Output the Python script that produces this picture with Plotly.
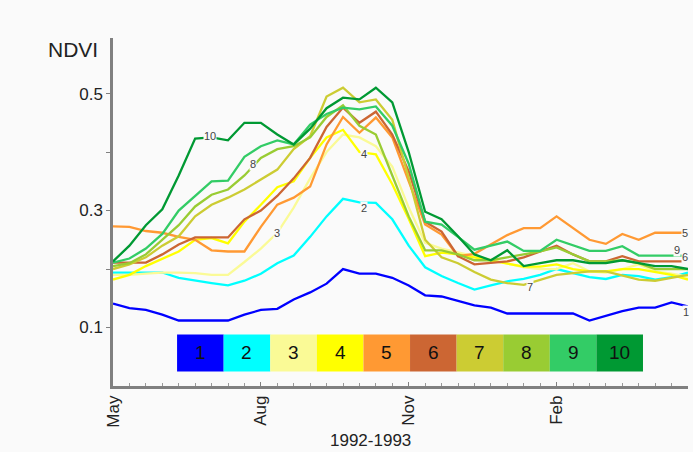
import plotly.graph_objects as go

# dekads from May 1992 (0) to late April 1993 (35)
dekads = list(range(36))
month_ticks = [0, 9, 18, 27]
month_labels = ["May", "Aug", "Nov", "Feb"]

class_names = ["1", "2", "3", "4", "5", "6", "7", "8", "9", "10"]
class_colors = ["#0000FF", "#00FFFF", "#FAFA96", "#FFFF00", "#FF9933",
                "#CC6633", "#CCCC33", "#99CC33", "#33CC66", "#009933"]

s1 = [0.141, 0.133, 0.13, 0.122, 0.112, 0.112, 0.112, 0.112, 0.122, 0.13, 0.132, 0.148,
      0.16, 0.175, 0.2, 0.192, 0.192, 0.185, 0.172, 0.155, 0.153, 0.145, 0.138, 0.134,
      0.124, 0.124, 0.124, 0.124, 0.124, 0.112, 0.12, 0.128, 0.134, 0.134, 0.143, 0.136]
s2 = [0.194, 0.194, 0.194, 0.194, 0.185, 0.18, 0.176, 0.172, 0.18, 0.192, 0.21, 0.223,
      0.255, 0.29, 0.32, 0.314, 0.313, 0.285, 0.24, 0.203, 0.188, 0.176, 0.165, 0.172,
      0.179, 0.183, 0.19, 0.2, 0.193, 0.186, 0.183, 0.19, 0.188, 0.182, 0.186, 0.194]
s3 = [0.19, 0.19, 0.192, 0.194, 0.194, 0.193, 0.19, 0.19, 0.212, 0.235, 0.262, 0.305,
      0.355, 0.4, 0.43, 0.425, 0.41, 0.375, 0.305, 0.245, 0.235, 0.228, 0.222, 0.216,
      0.21, 0.203, 0.2, 0.2, 0.21, 0.196, 0.194, 0.2, 0.208, 0.196, 0.192, 0.187]
s4 = [0.182, 0.19, 0.205, 0.217, 0.23, 0.25, 0.253, 0.244, 0.281, 0.31, 0.34, 0.35,
      0.39, 0.425, 0.438, 0.4, 0.396, 0.345, 0.286, 0.222, 0.228, 0.225, 0.22, 0.215,
      0.21, 0.204, 0.204, 0.208, 0.2, 0.196, 0.196, 0.2, 0.2, 0.195, 0.19, 0.182]
s5 = [0.273, 0.272, 0.265, 0.262, 0.255, 0.25, 0.232, 0.23, 0.23, 0.272, 0.31, 0.322,
      0.341, 0.413, 0.46, 0.433, 0.459, 0.425, 0.35, 0.276, 0.259, 0.222, 0.226, 0.242,
      0.258, 0.27, 0.27, 0.29, 0.27, 0.25, 0.243, 0.26, 0.25, 0.262, 0.262, 0.262]
s6 = [0.211, 0.211, 0.211, 0.225, 0.242, 0.254, 0.254, 0.254, 0.285, 0.3, 0.325, 0.355,
      0.39, 0.443, 0.476, 0.45, 0.469, 0.43, 0.367, 0.281, 0.264, 0.222, 0.208, 0.21,
      0.213, 0.22, 0.23, 0.24, 0.225, 0.213, 0.213, 0.222, 0.213, 0.213, 0.213, 0.213]
s7 = [0.2, 0.208, 0.22, 0.24, 0.256, 0.29, 0.31, 0.322, 0.336, 0.353, 0.37, 0.405,
      0.427, 0.495, 0.51, 0.485, 0.49, 0.455, 0.356, 0.25, 0.22, 0.21, 0.195, 0.182,
      0.176, 0.173, 0.182, 0.19, 0.193, 0.196, 0.196, 0.189, 0.182, 0.18, 0.185, 0.19]
s8 = [0.205, 0.21, 0.225, 0.25, 0.275, 0.307, 0.327, 0.336, 0.36, 0.39, 0.405, 0.41,
      0.425, 0.46, 0.48, 0.445, 0.43, 0.36, 0.29, 0.232, 0.232, 0.225, 0.215, 0.215,
      0.22, 0.225, 0.23, 0.237, 0.225, 0.213, 0.213, 0.215, 0.21, 0.2, 0.2, 0.2]
s9 = [0.211, 0.218, 0.235, 0.26, 0.3, 0.325, 0.35, 0.351, 0.392, 0.41, 0.42, 0.413,
      0.447, 0.465, 0.476, 0.473, 0.478, 0.445, 0.38, 0.281, 0.276, 0.255, 0.233, 0.24,
      0.247, 0.231, 0.231, 0.25, 0.24, 0.231, 0.231, 0.239, 0.223, 0.223, 0.223, 0.223]
s10 = [0.213, 0.24, 0.275, 0.302, 0.36, 0.423, 0.425, 0.42, 0.45, 0.45, 0.43, 0.413,
       0.44, 0.475, 0.493, 0.49, 0.51, 0.485, 0.4, 0.298, 0.285, 0.256, 0.225, 0.215,
       0.232, 0.205, 0.21, 0.215, 0.215, 0.21, 0.21, 0.215, 0.21, 0.205, 0.205, 0.2]

series = [s1, s2, s3, s4, s5, s6, s7, s8, s9, s10]

# in-chart line labels: (text, dekad, value)
line_labels = [("10", 5.9, 0.427), ("8", 8.5, 0.38), ("3", 10.0, 0.262),
               ("4", 15.3, 0.396), ("2", 15.3, 0.305), ("7", 25.4, 0.17),
               ("5", 34.8, 0.262), ("9", 34.3, 0.233), ("6", 34.8, 0.22),
               ("1", 34.85, 0.127)]

# legend strip (in data units)
leg_x0 = 3.9
leg_w = 2.836
leg_y0 = 0.025
leg_y1 = 0.088

BG = "#fafafa"
FONT = "Liberation Sans, Arial"
fig = go.Figure()
for name, col, ys in zip(class_names, class_colors, series):
    fig.add_trace(go.Scatter(x=dekads, y=ys, mode="lines", name=name,
                             line=dict(color=col, width=2.3), showlegend=False))

ann = []
for t, xd, yv in line_labels:
    ann.append(dict(x=xd, y=yv, xref="x", yref="y", text=t, showarrow=False,
                    font=dict(size=11, color="#444", family=FONT),
                    bgcolor=BG, borderpad=0))

shapes = []
for i, (name, col) in enumerate(zip(class_names, class_colors)):
    x0 = leg_x0 + i * leg_w
    shapes.append(dict(type="rect", xref="x", yref="y", x0=x0, x1=x0 + leg_w,
                       y0=leg_y0, y1=leg_y1, fillcolor=col, line=dict(width=0),
                       layer="above"))
    ann.append(dict(x=x0 + leg_w / 2, y=(leg_y0 + leg_y1) / 2, xref="x", yref="y",
                    text=name, showarrow=False,
                    font=dict(size=19, color="#111", family=FONT)))

ann.append(dict(x=-0.07, y=0.966, xref="paper", yref="paper", text="NDVI",
                xanchor="center", yanchor="middle",
                showarrow=False, font=dict(size=21, color="#222", family=FONT)))
ann.append(dict(x=0.447, y=-0.158, xref="paper", yref="paper", text="1992-1993",
                xanchor="center", yanchor="middle",
                showarrow=False, font=dict(size=17, color="#222", family=FONT)))

fig.update_layout(
    width=693, height=452,
    margin=dict(l=113, r=5, t=38, b=65.5),
    paper_bgcolor=BG, plot_bgcolor=BG,
    annotations=ann, shapes=shapes,
    font=dict(family=FONT, color="#222"),
)
fig.update_xaxes(range=[0, 35], showline=True, linecolor="#808080", linewidth=2.5,
                 showgrid=False, zeroline=False,
                 tickvals=month_ticks, ticktext=month_labels, tickangle=-90,
                 ticks="inside", ticklen=4, tickcolor="#808080",
                 tickfont=dict(size=17, color="#222"),
                 minor=dict(dtick=1, tick0=0, ticks="inside", ticklen=3, tickcolor="#999"))
fig.update_yaxes(range=[0, 0.595], showline=True, linecolor="#808080", linewidth=2.5,
                 showgrid=False, zeroline=False,
                 tickvals=[0.1, 0.2, 0.3, 0.4, 0.5], ticktext=["0.1", "", "0.3", "", "0.5"],
                 ticks="outside", ticklen=4, tickcolor="#808080",
                 tickfont=dict(size=17, color="#222"))

fig.write_html("out.html", config={"displayModeBar": False},
               post_script="document.body.style.margin='0';document.body.style.background='#fafafa';")
